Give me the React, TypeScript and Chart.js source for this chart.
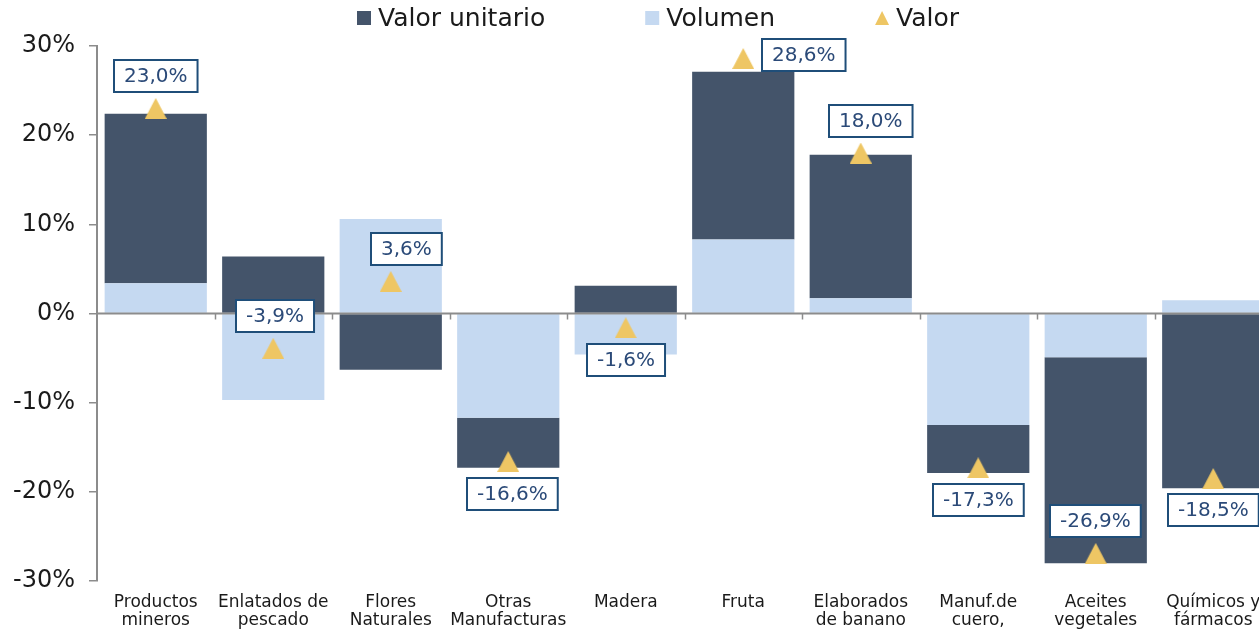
import React, { useEffect, useRef } from 'react';
import { Chart, registerables } from 'chart.js';

Chart.register(...registerables);

// ---------- data ----------
const categories: (string | string[])[] = [
  ['Productos', 'mineros'],
  ['Enlatados de', 'pescado'],
  ['Flores', 'Naturales'],
  ['Otras', 'Manufacturas'],
  'Madera',
  'Fruta',
  ['Elaborados', 'de banano'],
  ['Manuf.de', 'cuero,'],
  ['Aceites', 'vegetales'],
  ['Químicos y', 'fármacos'],
];
const volumen = [3.4, -9.7, 10.6, -11.7, -4.6, 8.3, 1.7, -12.5, -4.9, 1.5];
const valorUnitario = [19.0, 6.4, -6.3, -5.6, 3.1, 18.8, 16.1, -5.4, -23.1, -19.6];
const valor = [23.0, -3.9, 3.6, -16.6, -1.6, 28.6, 18.0, -17.3, -26.9, -18.5];
const yTicks = [-30, -20, -10, 0, 10, 20, 30];

// label placement (style, not data)
const labelAnchors = ['top', 'top', 'top', 'bottom', 'bottom', 'right', 'top', 'bottom', 'top', 'bottom'];
const labelShiftX = [0, 2, 16, 4, 0, 0, 10, 0, 0, 0];

// ---------- style ----------
const FONT = "'DejaVu Sans', sans-serif";
const DARK = '#44546A';
const LIGHT = '#C5D9F1';
const GOLD = '#EEC664';
const LABEL_BLUE = '#1F4E79';
const LABEL_TEXT = '#2B4A78';
const AXIS = '#8C8C8C';
const TEXT = '#1A1A1A';
const PLOT_RIGHT = 1272; // plot area continues past the right edge of the picture

function makeTriangle(w: number, h: number, color: string) {
  const c = document.createElement('canvas');
  c.width = w;
  c.height = h;
  const ctx = c.getContext('2d')!;
  ctx.fillStyle = color;
  ctx.beginPath();
  ctx.moveTo(w / 2, 0);
  ctx.lineTo(w, h);
  ctx.lineTo(0, h);
  ctx.closePath();
  ctx.fill();
  return c;
}

const fmt = (v: number) => v.toFixed(1).replace('.', ',') + '%';

const axisAndLabelsPlugin = {
  id: 'axisAndLabels',
  afterDatasetsDraw(chart: any) {
    const { ctx, chartArea, scales } = chart;
    const x = scales.x;
    const y = scales.y;
    const y0 = y.getPixelForValue(0);
    ctx.save();
    ctx.strokeStyle = AXIS;
    ctx.lineWidth = 2;
    ctx.beginPath();
    ctx.moveTo(chartArea.left, y0);
    ctx.lineTo(chart.width, y0);
    ctx.stroke();
    ctx.lineWidth = 1.5;
    for (let i = 1; i < categories.length; i++) {
      const bx = Math.round((x.getPixelForValue(i - 1) + x.getPixelForValue(i)) / 2) + 0.5;
      ctx.beginPath();
      ctx.moveTo(bx, y0);
      ctx.lineTo(bx, y0 + 6);
      ctx.stroke();
    }
    const meta = chart.getDatasetMeta(2);
    ctx.font = `20px ${FONT}`;
    ctx.textAlign = 'center';
    ctx.textBaseline = 'middle';
    meta.data.forEach((pt: any, i: number) => {
      const text = fmt(valor[i]);
      const tw = ctx.measureText(text).width;
      const bw = tw + 20;
      const bh = 32;
      let cx = pt.x + labelShiftX[i];
      let cy = pt.y;
      const a = labelAnchors[i];
      if (a === 'top') cy = pt.y - 11 - 5 - bh / 2;
      else if (a === 'bottom') cy = pt.y + 11 + 5 + bh / 2;
      else if (a === 'right') {
        cx = pt.x + 11 + 8 + bw / 2;
        cy = pt.y - 3;
      }
      const bx = Math.round(cx - bw / 2);
      const by = Math.round(cy - bh / 2);
      ctx.fillStyle = '#FFFFFF';
      ctx.fillRect(bx, by, bw, bh);
      ctx.strokeStyle = LABEL_BLUE;
      ctx.lineWidth = 2;
      ctx.strokeRect(bx, by, bw, bh);
      ctx.fillStyle = LABEL_TEXT;
      ctx.fillText(text, bx + bw / 2, by + bh / 2 + 1);
    });
    ctx.restore();
  },
};

const legendPlugin = {
  id: 'customLegend',
  afterDraw(chart: any) {
    const { ctx, chartArea } = chart;
    const ds = chart.data.datasets;
    const items = [ds[1], ds[0], ds[2]];
    ctx.save();
    ctx.font = `25px ${FONT}`;
    ctx.textBaseline = 'middle';
    ctx.textAlign = 'left';
    let x = chartArea.left + 260;
    const cy = 18;
    items.forEach((d: any) => {
      if (d.type === 'line') {
        ctx.fillStyle = GOLD;
        ctx.beginPath();
        ctx.moveTo(x + 7, cy - 7);
        ctx.lineTo(x + 14, cy + 7);
        ctx.lineTo(x, cy + 7);
        ctx.closePath();
        ctx.fill();
      } else {
        ctx.fillStyle = d.backgroundColor;
        ctx.fillRect(x, cy - 7, 14, 14);
      }
      x += 14 + 7;
      ctx.fillStyle = TEXT;
      ctx.fillText(d.label, x, cy + 1);
      x += ctx.measureText(d.label).width + 100;
    });
    ctx.restore();
  },
};

export default function App() {
  const canvasRef = useRef<HTMLCanvasElement | null>(null);

  useEffect(() => {
    const canvas = canvasRef.current;
    if (!canvas) return;
    const tri = makeTriangle(22, 21, GOLD);
    const chart = new Chart(canvas, {
      type: 'bar',
      data: {
        labels: categories as any,
        datasets: [
          {
            type: 'bar',
            label: 'Volumen',
            data: volumen,
            backgroundColor: LIGHT,
            borderWidth: 0,
            barPercentage: 0.87,
            categoryPercentage: 1,
          },
          {
            type: 'bar',
            label: 'Valor unitario',
            data: valorUnitario,
            backgroundColor: DARK,
            borderWidth: 0,
            barPercentage: 0.87,
            categoryPercentage: 1,
          },
          {
            type: 'line',
            label: 'Valor',
            data: valor,
            showLine: false,
            pointStyle: tri as any,
            pointRadius: 11,
            backgroundColor: GOLD,
            borderColor: GOLD,
            order: -1,
            stack: 'valor',
            clip: false,
          } as any,
        ],
      },
      options: {
        responsive: false,
        maintainAspectRatio: false,
        animation: false,
        layout: { padding: { top: 46, bottom: 0, left: 0, right: 0 } },
        plugins: {
          legend: { display: false },
          tooltip: { enabled: false },
        },
        scales: {
          x: {
            stacked: true,
            afterFit: (scale: any) => {
              scale.height = 50;
              scale.paddingRight = 0;
              scale.paddingLeft = 0;
            },
            afterSetDimensions: (scale: any) => {
              scale.right = PLOT_RIGHT;
              scale.width = scale.right - scale.left;
            },
            grid: { display: false, drawTicks: false },
            border: { display: false },
            ticks: {
              autoSkip: false,
              maxRotation: 0,
              minRotation: 0,
              padding: 12,
              color: TEXT,
              font: { family: FONT, size: 17, lineHeight: 1.1 },
            },
          },
          y: {
            stacked: true,
            min: -30,
            max: 30,
            afterFit: (scale: any) => {
              scale.width = 97;
            },
            afterBuildTicks: (scale: any) => {
              scale.ticks = yTicks.map((v) => ({ value: v }));
            },
            grid: {
              drawOnChartArea: false,
              drawTicks: true,
              tickLength: 8,
              color: AXIS,
              lineWidth: 1.5,
            },
            border: { display: true, color: AXIS, width: 2 },
            ticks: {
              padding: 14,
              color: TEXT,
              font: { family: FONT, size: 24 },
              callback: (v: any) => `${v}%`,
            },
          },
        },
      },
      plugins: [
        {
          id: 'extendX',
          afterLayout(chart: any) {
            const x = chart.scales.x;
            x.left = chart.chartArea.left;
            x.right = PLOT_RIGHT;
            x.width = x.right - x.left;
            x.configure();
          },
        },
        axisAndLabelsPlugin,
        legendPlugin,
      ],
    });
    return () => chart.destroy();
  }, []);

  return (
    <div
      style={{
        position: 'fixed',
        left: 0,
        top: 0,
        width: 1259,
        height: 631,
        overflow: 'hidden',
        background: '#FFFFFF',
      }}
    >
      <canvas ref={canvasRef} width={1259} height={631} style={{ display: 'block' }} />
    </div>
  );
}
